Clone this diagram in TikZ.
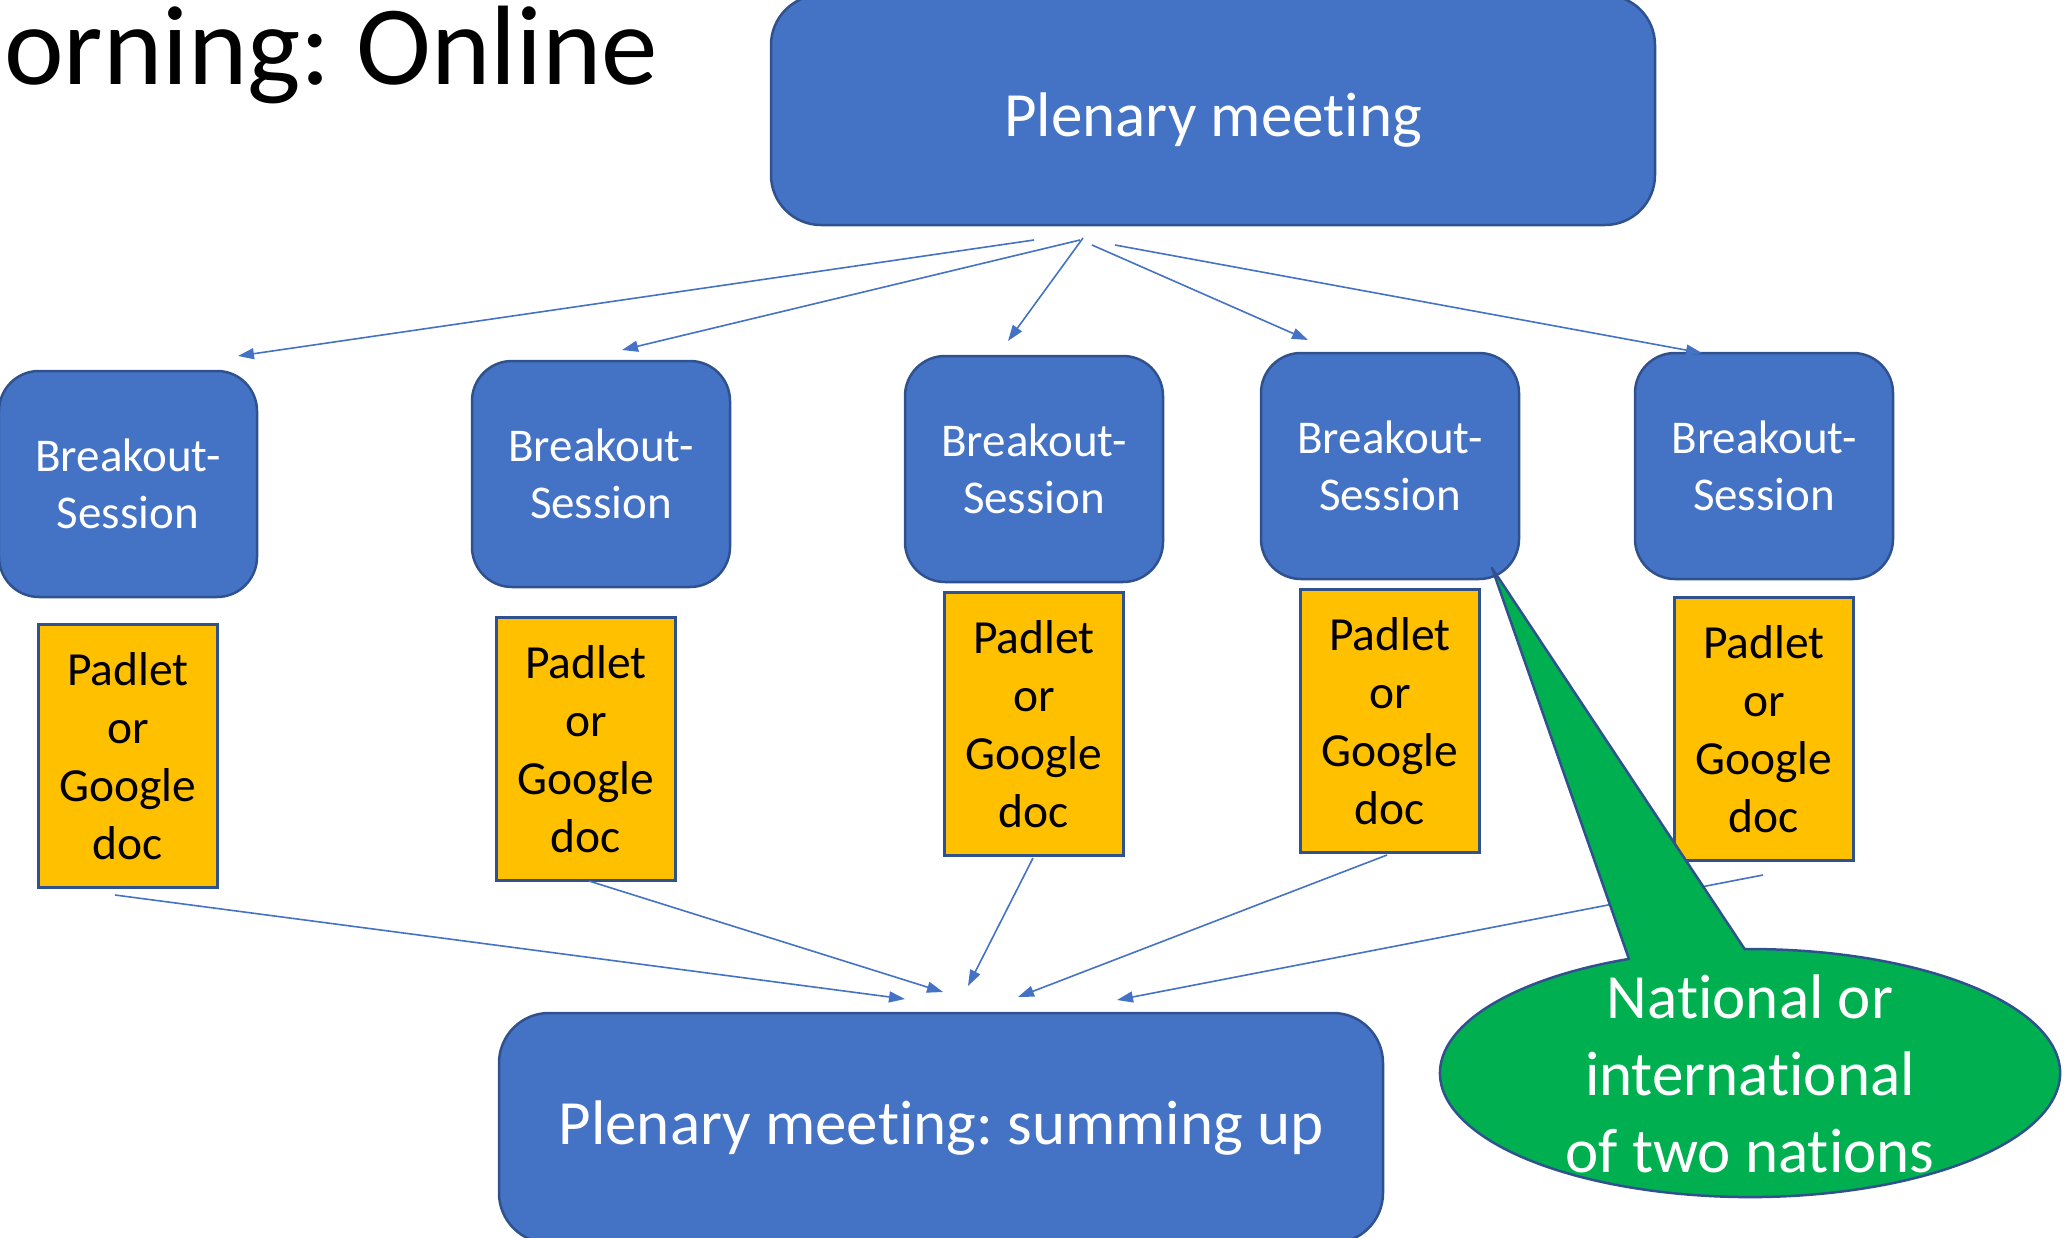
\documentclass[tikz,border=0pt]{standalone}
\usepackage{fontspec}
\setmainfont{Carlito}[Ligatures=NoCommon]
\usetikzlibrary{arrows.meta}
\definecolor{bfill}{HTML}{4472C4}
\definecolor{bline}{HTML}{2F528F}
\definecolor{ofill}{HTML}{FFC000}
\definecolor{gfill}{HTML}{00B050}
\frenchspacing
\begin{document}
\begin{tikzpicture}[x=1pt,y=-1pt,
 plen/.style={draw=bline, line width=2.5pt, fill=bfill, rounded corners=50pt, minimum width=884pt, minimum height=230pt, text=white, font=\fontsize{63}{77}\selectfont, inner sep=0pt},
 brk/.style={draw=bline, line width=2.5pt, fill=bfill, rounded corners=40pt, minimum width=258pt, minimum height=226pt, text=white, align=center, font=\fontsize{47}{57}\selectfont, inner sep=0pt},
 pad/.style={draw=bline, line width=2.5pt, fill=ofill, minimum width=179pt, minimum height=263pt, text=black, align=center, font=\fontsize{47.5}{58}\selectfont, inner sep=0pt},
 conn/.style={draw=bfill, line width=1.6pt, -{Triangle[length=16pt,width=11pt]}},
 callout/.style={draw=bline, line width=2.5pt, fill=gfill},
]
\clip (0,0) rectangle (2066,1237);

% title
\node[anchor=base west, inner sep=0pt, font=\fontsize{113}{136}\selectfont] (title) at (4,84) {orning: Online};

% plenary boxes
\node[plen, text height=52pt, text depth=0pt] (top) at (1213,110) {Plenary meeting};
\node[plen] (bottom) at (941,1128) {Plenary meeting: summing up};

% breakout sessions
\node[brk] (b1) at (128,484) {Breakout-\\Session};
\node[brk] (b2) at (601,474) {Breakout-\\Session};
\node[brk] (b3) at (1034,469) {Breakout-\\Session};
\node[brk] (b4) at (1390,466) {Breakout-\\Session};
\node[brk] (b5) at (1764,466) {Breakout-\\Session};

% padlets
\node[pad] (p1) at (128,756) {Padlet\\or\\Google\\doc};
\node[pad] (p2) at (586,749) {Padlet\\or\\Google\\doc};
\node[pad] (p3) at (1034,724) {Padlet\\or\\Google\\doc};
\node[pad] (p4) at (1390,721) {Padlet\\or\\Google\\doc};
\node[pad] (p5) at (1764,729) {Padlet\\or\\Google\\doc};

% connector end points
\coordinate (ts1) at (1034,240); \coordinate (te1) at (238,356);
\coordinate (ts2) at (1080,240); \coordinate (te2) at (622,350);
\coordinate (ts3) at (1083,238); \coordinate (te3) at (1008,341);
\coordinate (ts4) at (1092,245); \coordinate (te4) at (1308,340);
\coordinate (ts5) at (1115,245); \coordinate (te5) at (1702,353);

\coordinate (bs1) at (115,895); \coordinate (be1) at (905,999);
\coordinate (bs2) at (589,881); \coordinate (be2) at (943,992);
\coordinate (bs3) at (1033,858); \coordinate (be3) at (968,986);
\coordinate (bs4) at (1387,855); \coordinate (be4) at (1018,997);
\coordinate (bs5) at (1763,875); \coordinate (be5) at (1117,1000);

\foreach \i in {1,...,5} {
  \draw[conn] (ts\i) -- (te\i);
  \draw[conn] (bs\i) -- (be\i);
}

% callout
\coordinate (tip) at (1492,568);
\coordinate (cb1) at (1628.9,958.9);
\coordinate (cb2) at (1744.6,949.0);
\draw[callout, line join=round] (cb2) -- (tip) -- (cb1)
  arc[start angle=247, end angle=-91, x radius=310, y radius=124] -- cycle;
\node[align=center, text=white, font=\fontsize{63}{77}\selectfont, inner sep=0pt] (ctext) at (1750,1074)
  {National or\\international\\of two nations};
\end{tikzpicture}
\end{document}
